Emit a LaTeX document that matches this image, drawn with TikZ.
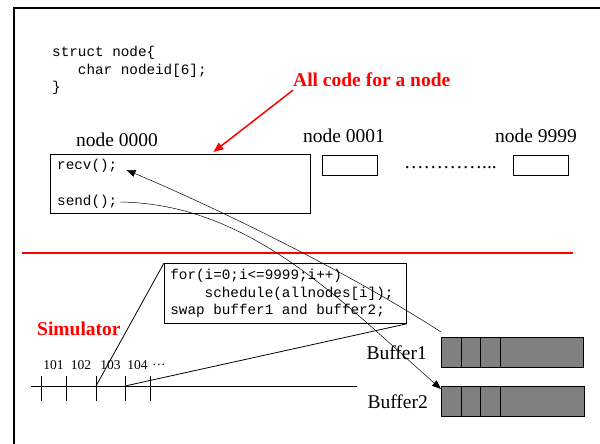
\documentclass[tikz,border=0pt]{standalone}
\usepackage{fontspec}
\setmainfont{Liberation Serif}[BoldFont={Liberation Serif Bold}]
\setmonofont{Liberation Mono}
\usetikzlibrary{positioning,arrows.meta,calc}

\newcommand{\tsp}{\hphantom{x}}

\tikzset{
    codetext/.style={font=\fontsize{14.3}{17.5}\selectfont\ttfamily, inner sep=0pt},
    nodelabel/.style={font=\fontsize{19.5}{22}\selectfont, inner sep=0pt},
    ticklabel/.style={font=\fontsize{13.5}{16}\selectfont, inner sep=0pt},
    redlabel/.style={font=\fontsize{19.5}{22}\selectfont\bfseries, text=red, inner sep=0pt},
    nodebox/.style={draw, line width=0.8pt, minimum width=55pt, minimum height=20pt, inner sep=0pt},
    bufbox/.style={draw, fill=black!50, line width=0.8pt, minimum width=142pt, minimum height=30pt, inner sep=0pt},
    msg/.style={line width=0.5pt, -{Triangle[length=9pt,width=7pt]}}
}

\begin{document}
\begin{tikzpicture}[x=1pt, y=-1pt]
    \useasboundingbox (0,0) rectangle (600,444);
    \draw[line width=2pt] (13.5,444) -- (13.5,8.3) -- (600,8.3);

    % the nodes
    \node[codetext, anchor=north west, align=left] (structdef) at (52,46)
        {struct\tsp node\{\\\tsp\tsp\tsp char\tsp nodeid[6];\\\}};
    \node[redlabel, anchor=west] (allcode) at (293,80) {All code for a node};

    \node[nodebox, minimum width=260pt, minimum height=59pt, anchor=north west] (box0) at (50,154) {};
    \node[nodebox] (box1) at (349.5,165) {};
    \node[nodebox] (box9) at (540.5,165) {};
    \node[nodelabel, anchor=base west] (lab0) at ([xshift=26pt,yshift=7.5pt]box0.north west) {node 0000};
    \node[nodelabel, anchor=base] (lab1) at ([xshift=-5.5pt,yshift=12pt]box1.north) {node 0001};
    \node[nodelabel, anchor=base] (lab9) at ([xshift=-4.5pt,yshift=12pt]box9.north) {node 9999};
    \node[nodelabel, anchor=base west] (dots) at (404,168) {…………...};

    \node[codetext, anchor=west] (recv) at (57,166) {recv();};
    \node[codetext, anchor=west] (send) at (57,202) {send();};

    \draw[red, line width=1.5pt, -{Triangle[length=10pt,width=8pt]}]
        ([yshift=-3pt]allcode.south west) -- ([xshift=33pt,yshift=2pt]box0.north);

    % simulator
    \draw[red, line width=2pt] (22,253) -- (573,253);
    \node[redlabel, anchor=west] (simlabel) at (37,329) {Simulator};

    \node[draw, line width=0.8pt, codetext, text width=230pt, inner xsep=6pt, minimum height=60pt,
        align=left, anchor=north west] (sched) at (164,263)
        {for(i=0;i<=9999;i++)\\\tsp\tsp\tsp\tsp schedule(allnodes[i]);\\swap\tsp buffer1\tsp and\tsp buffer2;};

    \draw[line width=0.8pt] (31,386) -- (357,386);
    \foreach \x [count=\i] in {41,66,96,125,150} {
        \coordinate (t\i) at (\x,386);
        \draw[line width=0.8pt] (\x,376) -- (\x,401);
    }
    \foreach \a/\b/\lab in {1/2/101,2/3/102,3/4/103,4/5/104}
        \node[ticklabel] (l\lab) at ($(t\a)!0.5!(t\b)+(0,-21)$) {\lab};
    \node[ticklabel, right=4pt of l104] (lmore) {…};

    \draw[line width=0.8pt] (t3) -- (sched.north west);
    \draw[line width=0.8pt] (t4) -- (sched.south east);

    % buffers
    \node[bufbox, anchor=north west] (buf1) at (441,337) {};
    \node[bufbox, minimum width=143pt, anchor=north west] (buf2) at (441,386) {};
    \foreach \b in {buf1,buf2}
        \foreach \d in {20,39,59}
            \draw[line width=0.8pt] ([xshift=\d pt]\b.north west) -- ([xshift=\d pt]\b.south west);
    \node[nodelabel, left=14pt of buf1] (buflab1) {Buffer1};
    \node[nodelabel, left=13pt of buf2] (buflab2) {Buffer2};

    \draw[msg] ([yshift=5pt]buf1.north west) .. controls (350,273) and (217,208) .. ([xshift=9pt,yshift=-4pt]recv.east);
    \draw[msg] ([xshift=3pt]send.east) .. controls (250,204) and (340,300) .. ([yshift=-3pt]buf2.north west);
\end{tikzpicture}
\end{document}
